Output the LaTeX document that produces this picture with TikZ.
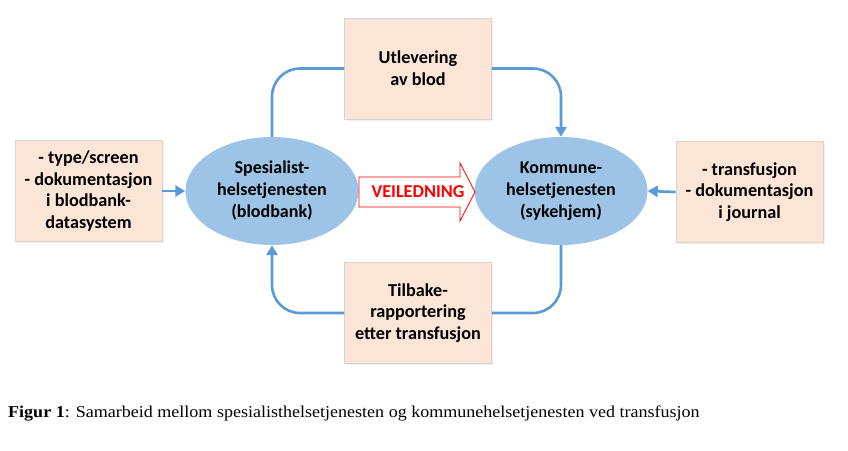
\documentclass[tikz,border=0pt]{standalone}
\usepackage{fontspec}
\setmainfont{Liberation Serif}
\newfontfamily\carlfont{Carlito}
\usetikzlibrary{arrows.meta,shadows,shapes.geometric}
\definecolor{boxfill}{HTML}{FBE5D6}
\definecolor{boxline}{HTML}{D9D4D0}
\definecolor{ellfill}{HTML}{9DC3E6}
\definecolor{flowcol}{HTML}{5B9BD5}
\begin{document}
\begin{tikzpicture}[x=1pt,y=-1pt,
  box/.style={draw=boxline, line width=0.8pt, fill=boxfill, minimum width=147pt, minimum height=101pt, inner sep=0pt, align=center, font=\carlfont\bfseries\fontsize{18.2}{21.8}\selectfont,
    drop shadow={shadow xshift=1.5pt, shadow yshift=-1.5pt, fill=black!12, opacity=0.5}},
  ell/.style={ellipse, fill=ellfill, minimum width=173pt, minimum height=108pt, inner sep=0pt, align=center, font=\carlfont\bfseries\fontsize{18}{22}\selectfont},
  flow/.style={draw=flowcol, line width=2.6pt},
  tip/.style={-{Triangle[length=10pt,width=11pt]}}
]
\useasboundingbox (0,0) rectangle (848,450);
\node[box] (lb) at (88.5,191) {- type/screen\\- dokumentasjon\\i blodbank-\\datasystem};
\node[box] (rb) at (749.5,192) {- transfusjon\\- dokumentasjon\\i journal};
\node[box] (ut) at (418,68.5) {Utlevering\\av blod};
\node[box] (tb) at (418,313) {Tilbake-\\rapportering\\etter transfusjon};
\node[ell] (sp) at (272,191) {Spesialist-\\helsetjenesten\\(blodbank)};
\node[ell] (ko) at (561,191) {Kommune-\\helsetjenesten\\(sykehjem)};
% connectors
\draw[flow, tip] (lb.east) -- (sp.west);
\draw[flow, tip] (rb.west) -- (ko.east);
\draw[flow, rounded corners=28pt] (sp.north) |- (ut.west);
\draw[flow, tip, rounded corners=28pt] (ut.east) -| (ko.north);
\draw[flow, rounded corners=28pt] (ko.south) |- (tb.east);
\draw[flow, tip, rounded corners=28pt] (tb.west) -| (sp.south);
% VEILEDNING arrow
\draw[draw=red, line width=0.8pt, fill=white] (359,177) -- (460,177) -- (460,163) -- (475,192) -- (460,221) -- (460,207) -- (359,207) -- cycle;
\node[text=red, font=\carlfont\bfseries\fontsize{18.2}{20}\selectfont, inner sep=0pt] (vl) at (418,192) {VEILEDNING};
% caption
\node[anchor=west, inner sep=0pt, font=\fontsize{16.6}{18}\selectfont] (cap) at (8,413) {\scalebox{1.086}[1]{\textbf{Figur 1}: Samarbeid mellom spesialisthelsetjenesten og kommunehelsetjenesten ved transfusjon}};
\end{tikzpicture}
\end{document}
